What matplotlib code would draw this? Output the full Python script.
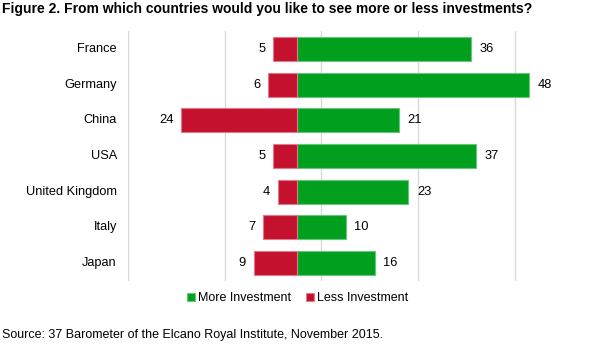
import matplotlib.pyplot as plt
import numpy as np

plt.rcParams['font.family'] = ['Liberation Sans', 'DejaVu Sans']

countries = ['France', 'Germany', 'China', 'USA', 'United Kingdom', 'Italy', 'Japan']
more_inv = [36, 48, 21, 37, 23, 10, 16]
less_inv = [5, 6, 24, 5, 4, 7, 9]

green = '#00A01E'
red = '#C4122E'

fig = plt.figure(figsize=(5.93, 3.44), dpi=100)
# 0 sits at x=297 px, about 4.83 px per unit
ax = fig.add_axes([128 / 593, 63 / 344, 435 / 593, 250 / 344])

y = np.arange(len(countries))
ax.barh(y, more_inv, height=0.67, color=green, edgecolor='#66c77a', linewidth=0.8,
        label='More Investment', zorder=3)
ax.barh(y, [-v for v in less_inv], height=0.67, color=red, edgecolor='#e07a8a',
        linewidth=0.8, label='Less Investment', zorder=3)

for i in range(len(countries)):
    ax.text(more_inv[i] + 1.8, y[i], str(more_inv[i]), va='center', ha='left', fontsize=9.3)
    ax.text(-less_inv[i] - 1.6, y[i], str(less_inv[i]), va='center', ha='right', fontsize=9.3)
    ax.text(-37.3, y[i], countries[i], va='center', ha='right', fontsize=9.2)

ax.set_xlim(-35, 55)
ax.set_ylim(len(countries) - 0.5, -0.5)
ax.set_xticks([-35, -15, 5, 25, 45])
ax.xaxis.grid(True, color='#d9d9d9', linewidth=1, zorder=0)
ax.tick_params(left=False, bottom=False, labelleft=False, labelbottom=False)
for s in ax.spines.values():
    s.set_visible(False)

leg = fig.legend(loc='center left', bbox_to_anchor=(181 / 593, 1 - 298 / 344), ncol=2,
                 frameon=False, fontsize=9, handlelength=0.6, handleheight=0.6,
                 handletextpad=0.3, columnspacing=1.15, borderpad=0)

fig.text(2 / 593, 1 - 9 / 344, 'Figure 2. From which countries would you like to see more or less investments?',
         fontsize=10, fontweight='bold', va='center', ha='left')
fig.text(2 / 593, 1 - 335 / 344, 'Source: 37 Barometer of the Elcano Royal Institute, November 2015.',
         fontsize=9, va='center', ha='left')

fig.savefig('out.png', dpi=100)
